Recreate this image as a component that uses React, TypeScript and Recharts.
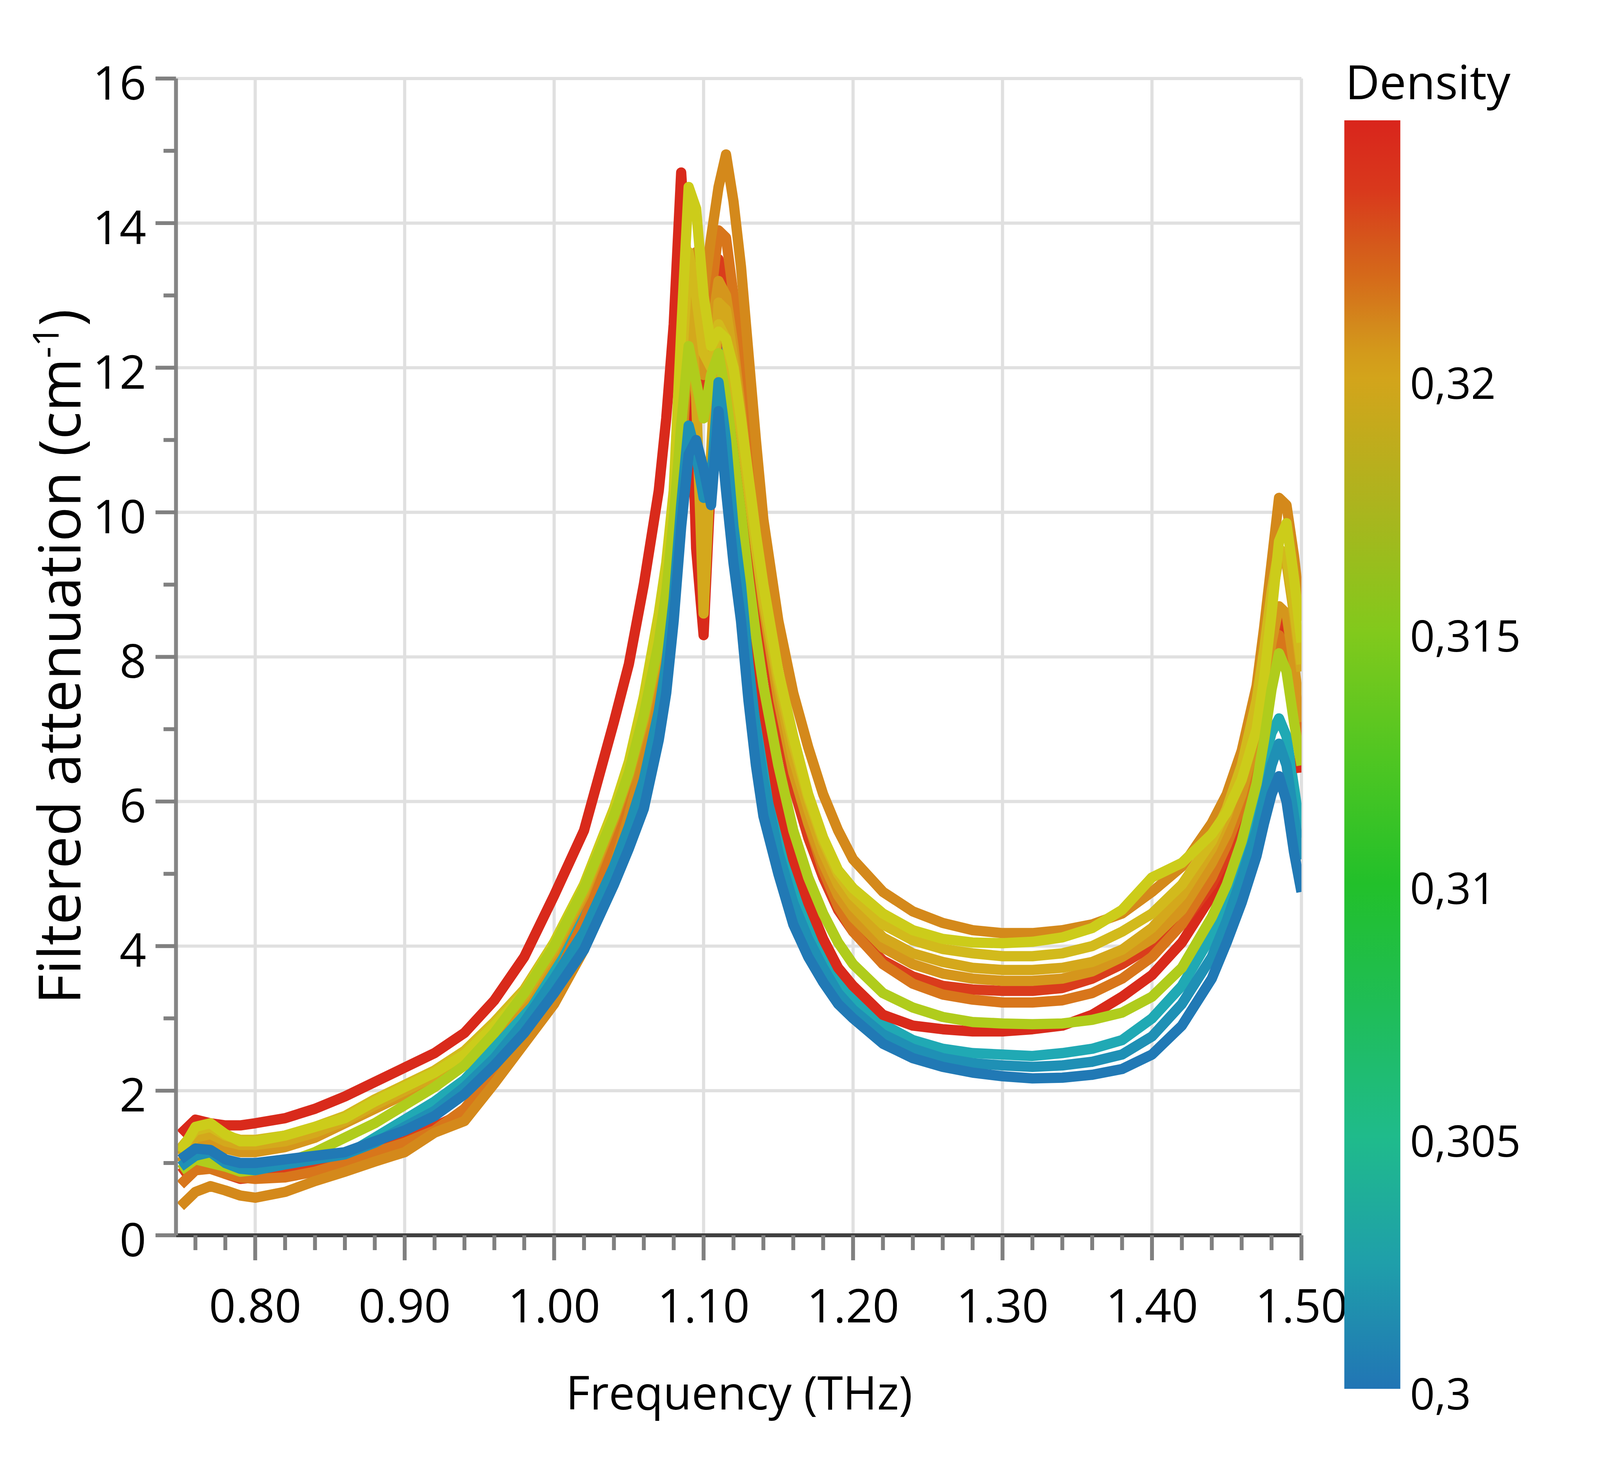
import React from 'react';
import { LineChart, Line, XAxis, YAxis, CartesianGrid } from 'recharts';

// frequency grid (THz), finer around the two resonances
const frequency = [
  0.75, 0.76, 0.77, 0.78, 0.79, 0.8,
  0.82, 0.84, 0.86, 0.88, 0.9, 0.92, 0.94, 0.96, 0.98, 1.0, 1.02, 1.04,
  1.05, 1.06, 1.07,
  1.075, 1.08, 1.085, 1.09, 1.095, 1.1, 1.105, 1.11, 1.115, 1.12, 1.125, 1.13, 1.135, 1.14,
  1.15, 1.16, 1.17, 1.18, 1.19, 1.2,
  1.22, 1.24, 1.26, 1.28, 1.3, 1.32, 1.34, 1.36, 1.38, 1.4, 1.42, 1.44,
  1.45, 1.46, 1.47,
  1.475, 1.48, 1.485, 1.49, 1.495, 1.5,
];

// filtered attenuation (cm-1), one array per sample
const att3250 = [
  1.4, 1.6, 1.55, 1.52, 1.52, 1.55,
  1.62, 1.75, 1.92, 2.12, 2.32, 2.52, 2.8, 3.25, 3.85, 4.7, 5.6, 7.1,
  7.9, 9.0, 10.3,
  11.3, 12.6, 14.7, 13.0, 9.5, 8.3, 10.5, 12.8, 12.5, 11.5, 10.5, 9.3, 8.2, 7.3,
  6.0, 5.2, 4.6, 4.1, 3.7, 3.45,
  3.05, 2.9, 2.85, 2.82, 2.82, 2.85, 2.9, 3.05, 3.3, 3.6, 4.05, 4.7,
  5.1, 5.6, 6.3,
  6.9, 7.6, 8.4, 8.3, 7.4, 6.4,
];
const att3245 = [
  0.85, 1.0, 0.95, 0.85, 0.78, 0.8,
  0.85, 0.95, 1.05, 1.2, 1.3, 1.5, 1.7, 2.2, 2.75, 3.4, 4.2, 5.3,
  6.0, 6.8, 7.9,
  8.6, 9.6, 11.0, 12.4, 12.0, 11.6, 12.6, 13.5, 13.2, 12.4, 11.5, 10.4, 9.4, 8.5,
  7.2, 6.2, 5.5, 4.95, 4.5, 4.2,
  3.8, 3.58, 3.45, 3.4, 3.38, 3.38, 3.42, 3.55, 3.75, 4.0, 4.3, 4.85,
  5.25, 5.8, 6.6,
  7.3, 8.0, 8.6, 8.5, 7.7, 6.9,
];
const att3235 = [
  0.7, 0.9, 0.92, 0.85, 0.8, 0.78,
  0.8, 0.88, 1.0, 1.15, 1.28, 1.45, 1.75, 2.25, 2.85, 3.5, 4.35, 5.45,
  6.15, 6.95, 8.0,
  8.7, 9.7, 11.2, 12.8, 12.6, 12.2, 13.0, 13.9, 13.8, 13.0, 12.1, 11.0, 9.9, 9.0,
  7.6, 6.5, 5.7, 5.05, 4.55, 4.2,
  3.75, 3.48, 3.33, 3.26, 3.22, 3.22, 3.25, 3.35, 3.55, 3.85, 4.3, 4.95,
  5.4, 5.95, 6.75,
  7.35, 7.95, 8.3, 8.1, 7.3, 6.55,
];
const att3228 = [
  0.4, 0.6, 0.68, 0.62, 0.55, 0.52,
  0.6, 0.75, 0.88, 1.02, 1.15, 1.42, 1.58, 2.1, 2.65, 3.2, 3.95, 5.1,
  5.8, 6.6, 7.7,
  8.4, 9.3, 10.6, 12.5, 13.6, 13.0, 13.8, 14.5, 14.95, 14.3, 13.4, 12.2, 11.0, 9.9,
  8.5, 7.5, 6.75, 6.1, 5.6, 5.2,
  4.75, 4.48, 4.32, 4.22, 4.18, 4.18, 4.22, 4.3, 4.45, 4.75, 5.1, 5.7,
  6.1, 6.7, 7.6,
  8.4, 9.3, 10.2, 10.1, 9.4, 8.5,
];
const att3215 = [
  1.0, 1.25, 1.3, 1.2, 1.15, 1.15,
  1.22, 1.35, 1.55, 1.75, 1.95, 2.15, 2.4, 2.8, 3.25, 3.9, 4.7, 5.75,
  6.35, 7.1, 8.1,
  8.8, 9.8, 11.3, 12.9, 12.3, 11.9, 12.5, 13.2, 13.0, 12.3, 11.4, 10.4, 9.5, 8.7,
  7.4, 6.4, 5.7, 5.15, 4.7, 4.4,
  3.98, 3.75, 3.62, 3.55, 3.52, 3.52, 3.55, 3.65, 3.85, 4.1, 4.5, 5.15,
  5.55, 6.1, 6.9,
  7.5, 8.2, 8.7, 8.6, 7.9, 7.1,
];
const att3210 = [
  1.1, 1.35, 1.4, 1.3, 1.25, 1.25,
  1.3, 1.42, 1.58, 1.8, 2.0, 2.2, 2.45, 2.85, 3.3, 3.95, 4.75, 5.8,
  6.4, 7.15, 8.15,
  8.9, 9.95, 11.6, 13.4, 11.6, 8.6, 10.8, 12.9, 12.8, 12.1, 11.3, 10.4, 9.6, 8.8,
  7.6, 6.6, 5.9, 5.3, 4.85, 4.55,
  4.12, 3.9, 3.78, 3.7, 3.67, 3.67, 3.7, 3.78, 3.95, 4.25, 4.7, 5.35,
  5.8, 6.4, 7.3,
  8.0, 8.8, 9.4, 9.3, 8.6, 7.8,
];
const att3205 = [
  1.2, 1.45, 1.5, 1.38, 1.32, 1.32,
  1.38, 1.5, 1.65, 1.88, 2.08, 2.28, 2.55, 2.95, 3.4, 4.05, 4.85, 5.9,
  6.5, 7.35, 8.45,
  9.1, 10.1, 11.9, 13.6, 13.0, 12.2, 12.0, 12.6, 12.4, 11.8, 11.1, 10.3, 9.5, 8.8,
  7.7, 6.8, 6.05, 5.45, 5.0, 4.7,
  4.3, 4.08, 3.96, 3.9, 3.86, 3.86, 3.9, 4.0, 4.2, 4.45, 4.85, 5.45,
  5.9, 6.5, 7.4,
  8.1, 8.9, 9.5, 9.4, 8.7, 7.9,
];
const att3195 = [
  1.15, 1.5, 1.55, 1.4, 1.3, 1.3,
  1.38, 1.5, 1.62, 1.85, 2.05, 2.25, 2.5, 2.9, 3.35, 4.05, 4.85, 5.9,
  6.55, 7.45, 8.6,
  9.3, 10.3, 12.5, 14.5, 14.2, 13.0, 12.3, 12.5, 12.4, 12.0, 11.3, 10.5, 9.7, 9.0,
  7.8, 6.9, 6.1, 5.5, 5.05, 4.8,
  4.45, 4.22, 4.1, 4.05, 4.04, 4.06, 4.12, 4.25, 4.5, 4.95, 5.15, 5.55,
  5.85, 6.3, 7.0,
  7.7, 8.6, 9.6, 9.85, 9.1, 8.2,
];
const att3170 = [
  0.9, 1.05, 1.0, 0.95, 0.88, 0.9,
  1.0, 1.15, 1.35, 1.55, 1.8, 2.05, 2.35, 2.8, 3.35, 4.0, 4.8, 5.8,
  6.4, 7.2, 8.2,
  8.9, 9.9, 11.2, 12.3, 11.8, 11.3, 11.9, 12.2, 11.6, 10.8, 10.0, 9.1, 8.3, 7.6,
  6.5, 5.6, 4.95, 4.45, 4.05, 3.75,
  3.35, 3.15, 3.02, 2.95, 2.93, 2.92, 2.93, 2.98, 3.08, 3.3, 3.7, 4.4,
  4.85, 5.45, 6.25,
  6.85, 7.55, 8.05, 7.8, 7.1, 6.5,
];
const att3035 = [
  0.9, 1.05, 1.0, 0.9, 0.85, 0.85,
  0.92, 1.0, 1.1, 1.35, 1.6, 1.85, 2.15, 2.6, 3.1, 3.75, 4.5, 5.5,
  6.05, 6.7, 7.6,
  8.3, 9.3, 10.6, 11.4, 11.9, 13.4, 12.6, 12.2, 11.4, 10.5, 9.6, 8.6, 7.7, 7.0,
  5.8, 5.0, 4.4, 3.95, 3.55, 3.3,
  2.92, 2.7, 2.58, 2.52, 2.5, 2.48, 2.52, 2.58, 2.7, 3.0, 3.45, 4.15,
  4.65, 5.3, 6.05,
  6.55, 6.95, 7.15, 6.9, 6.2, 5.5,
];
const att3015 = [
  0.95, 1.1, 1.15, 1.0, 0.92, 0.9,
  0.98, 1.05, 1.12, 1.28, 1.5, 1.72, 2.05, 2.45, 2.95, 3.55, 4.2, 5.1,
  5.65, 6.3, 7.25,
  7.9, 8.8, 10.1, 11.2, 10.8, 10.2, 10.4, 11.8, 11.0, 9.8, 9.0, 7.9, 7.0, 6.3,
  5.3, 4.6, 4.1, 3.7, 3.35, 3.12,
  2.78, 2.58, 2.45, 2.38, 2.35, 2.33, 2.35, 2.4, 2.5, 2.75, 3.2, 3.85,
  4.35, 4.95, 5.6,
  6.05, 6.5, 6.8, 6.5, 5.8, 5.2,
];
const att3000 = [
  1.05, 1.2, 1.18, 1.05, 1.0, 1.0,
  1.05, 1.1, 1.15, 1.3, 1.45, 1.65, 1.95, 2.35, 2.8, 3.35, 3.95, 4.85,
  5.35, 5.9, 6.85,
  7.5, 8.5, 9.8, 10.8, 11.0, 10.6, 10.1, 11.4, 10.3, 9.3, 8.5, 7.4, 6.5, 5.8,
  5.0, 4.3, 3.85, 3.5, 3.2, 3.0,
  2.65, 2.45, 2.33, 2.25, 2.2, 2.17, 2.18, 2.22, 2.3, 2.5, 2.9, 3.55,
  4.05, 4.6, 5.25,
  5.7, 6.1, 6.35, 6.0, 5.3, 4.75,
];

const densities = [0.325, 0.3245, 0.3235, 0.3228, 0.3215, 0.321, 0.3205, 0.3195, 0.317, 0.3035, 0.3015, 0.3];
const seriesValues = [
  att3250, att3245, att3235, att3228, att3215, att3210,
  att3205, att3195, att3170, att3035, att3015, att3000,
];
const seriesColors = [
  '#d92a1b', '#da3c1c', '#d8761b', '#d4891b', '#d5961c', '#d4a81c',
  '#d2ba1c', '#cccc1a', '#b0cc1c', '#20a9b4', '#1f90b5', '#2179b5',
];
// teal first so the yellow group covers it at the main peak, as in the picture
const drawOrder = [9, 0, 1, 2, 3, 4, 5, 6, 7, 8, 10, 11];

const xMajorTicks = [0.8, 0.9, 1.0, 1.1, 1.2, 1.3, 1.4, 1.5];
const xMajorLabels = ['0.80', '0.90', '1.00', '1.10', '1.20', '1.30', '1.40', '1.50'];
const xMinorTicks = [
  0.76, 0.78, 0.82, 0.84, 0.86, 0.88, 0.92, 0.94, 0.96, 0.98, 1.02, 1.04, 1.06, 1.08,
  1.12, 1.14, 1.16, 1.18, 1.22, 1.24, 1.26, 1.28, 1.32, 1.34, 1.36, 1.38, 1.42, 1.44, 1.46, 1.48,
];
const yMajorTicks = [0, 2, 4, 6, 8, 10, 12, 14, 16];
const yMinorTicks = [1, 3, 5, 7, 9, 11, 13, 15];

const densityTicks = [0.3, 0.305, 0.31, 0.315, 0.32];
const densityLabels = ['0,3', '0,305', '0,31', '0,315', '0,32'];
const densityRange = [0.3, 0.3251];
const densityStops = [
  [0.3, '#2175b5'], [0.3025, '#1f9faa'], [0.305, '#1fbb8b'], [0.3075, '#1fbd58'],
  [0.31, '#22c02a'], [0.3125, '#50c622'], [0.315, '#82c91c'], [0.3175, '#acb41e'],
  [0.32, '#d3a41b'], [0.3205, '#d39a1b'], [0.321, '#d38b1c'], [0.3215, '#d47a1b'],
  [0.322, '#d56a1a'], [0.3226, '#d55a1b'], [0.3237, '#d9391c'], [0.3251, '#d9251c'],
] as [number, string][];

const FONT = "'Open Sans', 'Noto Sans', sans-serif";

// layout is designed on a 5000x3750 canvas and mapped onto the real viewport
const W = 5000;
const H = 3750;
const VW = typeof window !== 'undefined' ? Math.floor(window.innerWidth) : W;
const VH = typeof window !== 'undefined' ? Math.floor(window.innerHeight) : H;
const sx = VW / W;
const sy = VH / H;
const fs = Math.sqrt(sx * sy);

const chartData = frequency.map((f, i) => {
  const row: Record<string, number> = { f };
  seriesValues.forEach((vals, s) => {
    row['s' + s] = vals[i];
  });
  return row;
});

const xTicks = [...xMajorTicks, ...xMinorTicks].sort((a, b) => a - b);
const yTicks = [...yMajorTicks, ...yMinorTicks].sort((a, b) => a - b);

const XTick = (props: any) => {
  const { x, y, payload } = props;
  const i = xMajorTicks.findIndex((t) => Math.abs(t - payload.value) < 1e-6);
  const major = i >= 0;
  return (
    <g>
      <line x1={x} x2={x} y1={y} y2={y + (major ? 64 : 38) * sy} stroke="#808080" strokeWidth={11 * fs} />
      {major && (
        <text x={x} y={y + 176 * sy} textAnchor="middle" dominantBaseline="central"
          fontSize={146 * sx} fontFamily={FONT} fill="#000">
          {xMajorLabels[i]}
        </text>
      )}
    </g>
  );
};

const YTick = (props: any) => {
  const { x, y, payload } = props;
  const major = yMajorTicks.includes(payload.value);
  return (
    <g>
      <line x1={x - (major ? 64 : 39) * sx} x2={x} y1={y} y2={y} stroke="#808080" strokeWidth={11 * fs} />
      {major && (
        <text x={x - 93 * sx} y={y + 7 * sy} textAnchor="end" dominantBaseline="central"
          fontSize={146 * sx} fontFamily={FONT} fill="#000">
          {payload.value}
        </text>
      )}
    </g>
  );
};

// colour bar geometry (design canvas units)
const CB = { x: 4201, top: 308, width: 175, bottom: 3555 };
const cbY = (d: number) =>
  CB.bottom - ((d - densityRange[0]) / (densityRange[1] - densityRange[0])) * (CB.bottom - CB.top);

export default function App() {
  const yTitleX = 252 * sx;
  const yTitleY = 1681 * sy;
  const yTitleSize = 148 * sy;
  return (
    <div style={{ position: 'absolute', left: 0, top: 0, width: VW, height: VH, overflow: 'hidden', background: '#fff' }}>
      <LineChart
        width={VW}
        height={VH}
        data={chartData}
        margin={{ top: 201 * sy, right: 933 * sx, bottom: 488 * sy, left: 450 * sx }}
      >
        <CartesianGrid
          horizontalValues={yMajorTicks.slice(1)}
          verticalValues={xMajorTicks}
          stroke="#e0e0e0"
          strokeWidth={9 * fs}
        />
        <XAxis
          dataKey="f"
          type="number"
          domain={[0.747, 1.5]}
          ticks={xTicks}
          interval={0}
          height={100 * sy}
          tickSize={0}
          tickMargin={0}
          tickLine={false}
          tick={<XTick />}
          axisLine={{ stroke: '#404040', strokeWidth: 11 * fs }}
          allowDataOverflow
        />
        <YAxis
          type="number"
          domain={[0, 16]}
          ticks={yTicks}
          interval={0}
          width={100 * sx}
          tickSize={0}
          tickMargin={0}
          tickLine={false}
          tick={<YTick />}
          axisLine={{ stroke: '#858585', strokeWidth: 11 * fs }}
        />
        {drawOrder.map((s) => (
          <Line
            key={s}
            dataKey={'s' + s}
            name={String(densities[s])}
            type="linear"
            stroke={seriesColors[s]}
            strokeWidth={29 * fs}
            strokeLinejoin="round"
            dot={false}
            activeDot={false}
            isAnimationActive={false}
          />
        ))}
      </LineChart>

      <svg
        width={VW}
        height={VH}
        style={{ position: 'absolute', left: 0, top: 0, pointerEvents: 'none' }}
      >
        <defs>
          <linearGradient id="densityGrad" x1="0" y1="1" x2="0" y2="0">
            {densityStops.map(([d, c]) => (
              <stop
                key={d}
                offset={(d - densityRange[0]) / (densityRange[1] - densityRange[0])}
                stopColor={c}
              />
            ))}
          </linearGradient>
        </defs>

        <text
          x={yTitleX}
          y={yTitleY}
          transform={`rotate(-90 ${yTitleX} ${yTitleY})`}
          textAnchor="middle"
          fontSize={yTitleSize}
          fontFamily={FONT}
          fill="#000"
        >
          Filtered attenuation (cm
          <tspan dy={-0.38 * yTitleSize} fontSize={0.62 * yTitleSize}>-1</tspan>
          <tspan dy={0.38 * yTitleSize}>)</tspan>
        </text>
        <text x={2310 * sx} y={3608 * sy} textAnchor="middle" fontSize={145 * sx} fontFamily={FONT} fill="#000">
          Frequency (THz)
        </text>

        <text x={4204 * sx} y={254 * sy} fontSize={148 * sx} fontFamily={FONT} fill="#000">
          Density
        </text>
        <rect
          x={CB.x * sx}
          y={CB.top * sy}
          width={CB.width * sx}
          height={(CB.bottom - CB.top) * sy}
          fill="url(#densityGrad)"
        />
        {densityTicks.map((d, i) => (
          <text
            key={d}
            x={4406 * sx}
            y={(cbY(d) + 10) * sy}
            dominantBaseline="central"
            fontSize={136 * sx}
            fontFamily={FONT}
            fill="#000"
          >
            {densityLabels[i]}
          </text>
        ))}
      </svg>
    </div>
  );
}
